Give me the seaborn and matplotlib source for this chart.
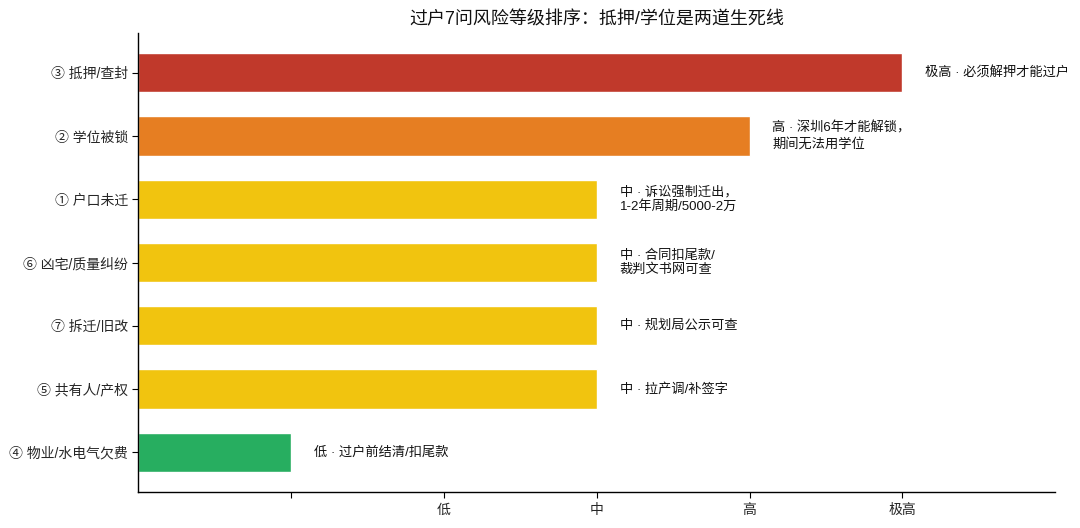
import seaborn as sns
import matplotlib.pyplot as plt
import pandas as pd

# Risk ranking data (top to bottom)
items = ['③ 抵押/查封', '② 学位被锁', '① 户口未迁', '⑥ 凶宅/质量纠纷',
         '⑦ 拆迁/旧改', '⑤ 共有人/产权', '④ 物业/水电气欠费']
levels = [5, 4, 3, 3, 3, 3, 1]
notes = ['极高 · 必须解押才能过户',
         '高 · 深圳6年才能解锁，\n期间无法用学位',
         '中 · 诉讼强制迁出，\n1-2年周期/5000-2万',
         '中 · 合同扣尾款/\n裁判文书网可查',
         '中 · 规划局公示可查',
         '中 · 拉产调/补签字',
         '低 · 过户前结清/扣尾款']
bar_colors = ['#C0392B', '#E67E22', '#F1C40F', '#F1C40F',
              '#F1C40F', '#F1C40F', '#27AE60']
tick_vals = [1, 2, 3, 4, 5]
tick_labels = ['', '低', '中', '高', '极高']

sns.set_style('white')
plt.rcParams['font.family'] = ['Liberation Sans', 'Noto Sans CJK SC', 'DejaVu Sans']

df = pd.DataFrame({'item': items, 'level': levels})

fig = plt.figure(figsize=(10.8, 5.28), dpi=100)
ax = fig.add_axes([0.128, 0.068, 0.849, 0.8695])
sns.barplot(data=df, x='level', y='item', hue='item', palette=bar_colors,
            legend=False, width=0.62, saturation=1, ax=ax)

for i, (v, note) in enumerate(zip(levels, notes)):
    ax.text(v + 0.15, i, note, va='center', ha='left', fontsize=9.5,
            color='#111111', linespacing=1.25)

ax.set_xlim(0, 6)
ax.set_ylim(6.63, -0.63)
ax.set_xticks(tick_vals)
ax.set_xticklabels(tick_labels, fontsize=10)
ax.tick_params(axis='y', labelsize=10)
ax.tick_params(axis='both', length=4, width=0.8, color='black', left=True, bottom=True)
ax.set_xlabel('')
ax.set_ylabel('')
ax.set_title('过户7问风险等级排序：抵押/学位是两道生死线', fontsize=13,
             color='#111111', pad=6)
for side in ['top', 'right']:
    ax.spines[side].set_visible(False)
for side in ['left', 'bottom']:
    ax.spines[side].set_color('black')
    ax.spines[side].set_linewidth(1.0)

fig.savefig('out.png', dpi=100)
